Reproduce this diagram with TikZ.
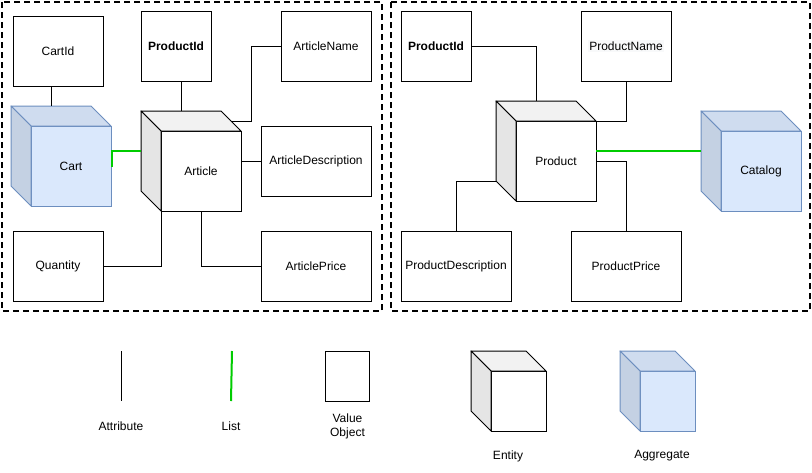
\documentclass[tikz,border=0pt]{standalone}
\usepackage{fontspec}
\setmainfont{Liberation Sans}
\definecolor{aggfill}{HTML}{DAE8FC}
\definecolor{aggline}{HTML}{6C8EBF}
\definecolor{listgreen}{RGB}{0,204,0}
\definecolor{texthl}{HTML}{F8F9FA}
\tikzset{
  vobox/.style={draw=black, line width=1pt, fill=white, inner sep=0pt, outer sep=0pt, font=\fontsize{12}{14}\selectfont},
  cubefront/.style={line width=1pt, inner sep=0pt, outer sep=0pt, font=\fontsize{12}{14}\selectfont},
  attrline/.style={draw=black, line width=1pt},
  listline/.style={draw=listgreen, line width=2pt},
  groupbox/.style={draw=black, line width=2pt, dash pattern=on 6pt off 4pt},
  legendtext/.style={inner sep=0pt, align=center, font=\fontsize{12}{14}\selectfont},
}
% #1 name, #2 front-face centre, #3 width, #4 height, #5 fill, #6 stroke, #7 label
\newcommand{\dddcube}[7]{%
  \node[cubefront, fill=#5, draw=#6, minimum width=#3, minimum height=#4] (#1) at #2 {#7};
  \filldraw[line width=1pt, line join=round, fill=#5!95!black, draw=#6]
    (#1.north west) -- ([shift={(-20,-20)}]#1.north west) -- ([shift={(-20,-20)}]#1.north east) -- (#1.north east) -- cycle;
  \filldraw[line width=1pt, line join=round, fill=#5!90!black, draw=#6]
    (#1.north west) -- ([shift={(-20,-20)}]#1.north west) -- ([shift={(-20,-20)}]#1.south west) -- (#1.south west) -- cycle;
}
\begin{document}
\begin{tikzpicture}[x=1pt, y=-1pt]
\useasboundingbox (0,0) rectangle (812,472);

% group frames
\draw[groupbox] (2,2) rectangle (382,311);
\draw[groupbox] (391,2) rectangle (810,311);

% ---------- Cart aggregate ----------
\node[vobox, minimum width=90, minimum height=70] (cartid) at (58,51) {CartId};
\node[vobox, minimum width=70, minimum height=70] (pidL) at (176,46) {\bfseries ProductId};
\node[vobox, minimum width=90, minimum height=70] (artname) at (326,46) {ArticleName};
\node[vobox, minimum width=110, minimum height=70] (artdesc) at (316,161) {ArticleDescription};
\node[vobox, minimum width=90, minimum height=70] (quantity) at (58,266) {Quantity};
\node[vobox, minimum width=110, minimum height=70] (artprice) at (316,266) {ArticlePrice};

\dddcube{cart}{(71,166)}{80}{80}{aggfill}{aggline}{Cart}
\dddcube{article}{(201,171)}{80}{80}{white}{black}{Article}

\coordinate (carttop) at ([shift={(-20,-20)}]cart.north);
\coordinate (arttop) at ([shift={(-20,-20)}]article.north);
\coordinate (artTR) at ([shift={(-10,-10)}]article.north east);
\coordinate (artL) at ([shift={(-20,-20)}]article.west);

\draw[attrline] (carttop) -- (carttop |- cartid.south);
\draw[attrline] (arttop) -- (arttop |- pidL.south);
\draw[attrline] (artname.west) -- ++(-30,0) |- (artTR);
\draw[attrline] (artdesc.west) -- (artdesc.west -| article.east);
\draw[attrline] (quantity.east) -| (article.south west);
\draw[attrline] (artprice.west) -| (article.south);
\draw[listline] (cart.east) -- ++(1,0) |- (artL);

% ---------- Catalog aggregate ----------
\node[vobox, minimum width=70, minimum height=70] (pidR) at (436,46) {\bfseries ProductId};
\node[vobox, minimum width=90, minimum height=70] (prodname) at (626,46) {{\setlength{\fboxsep}{1.5pt}\colorbox{texthl}{ProductName}}};
\node[vobox, minimum width=110, minimum height=70] (proddesc) at (456,266) {ProductDescription};
\node[vobox, minimum width=110, minimum height=70] (prodprice) at (626,266) {ProductPrice};

\dddcube{product}{(556,161)}{80}{80}{white}{black}{Product}
\dddcube{catalog}{(761,171)}{80}{80}{aggfill}{aggline}{Catalog}

\coordinate (prodtop) at ([shift={(-20,-20)}]product.north);
\coordinate (prodBL) at ([shift={(-20,-20)}]product.south west);
\coordinate (catL) at ([shift={(-20,-20)}]catalog.west);

\draw[attrline] (pidR.east) -| (prodtop);
\draw[attrline] (prodname.south) |- (product.north east);
\draw[attrline] (product.east) -| (prodprice.north);
\draw[attrline] (prodBL) -| (proddesc.north);
\draw[listline] (catL) -- (catL -| product.east);

% ---------- Legend ----------
\coordinate (attrA) at (121.5,351);
\coordinate (attrB) at (121.5,401);
\draw[attrline] (attrA) -- (attrB);
\node[legendtext] (attrlabel) at (121,426) {Attribute};

\coordinate (listA) at (232,351);
\coordinate (listB) at (231,401);
\draw[listline] (listA) -- (listB);
\node[legendtext] (listlabel) at (231,426) {List};

\node[vobox, minimum width=44, minimum height=50] (legvo) at (347,376) {};
\node[legendtext] (volabel) at (347.5,426) {Value\\Object};

\dddcube{legentity}{(518.5,401)}{55}{60}{white}{black}{}
\node[legendtext] (entitylabel) at (508,456) {Entity};

\dddcube{legagg}{(667.5,401)}{55}{60}{aggfill}{aggline}{}
\node[legendtext] (agglabel) at (662,456) {Aggregate};
\end{tikzpicture}
\end{document}
